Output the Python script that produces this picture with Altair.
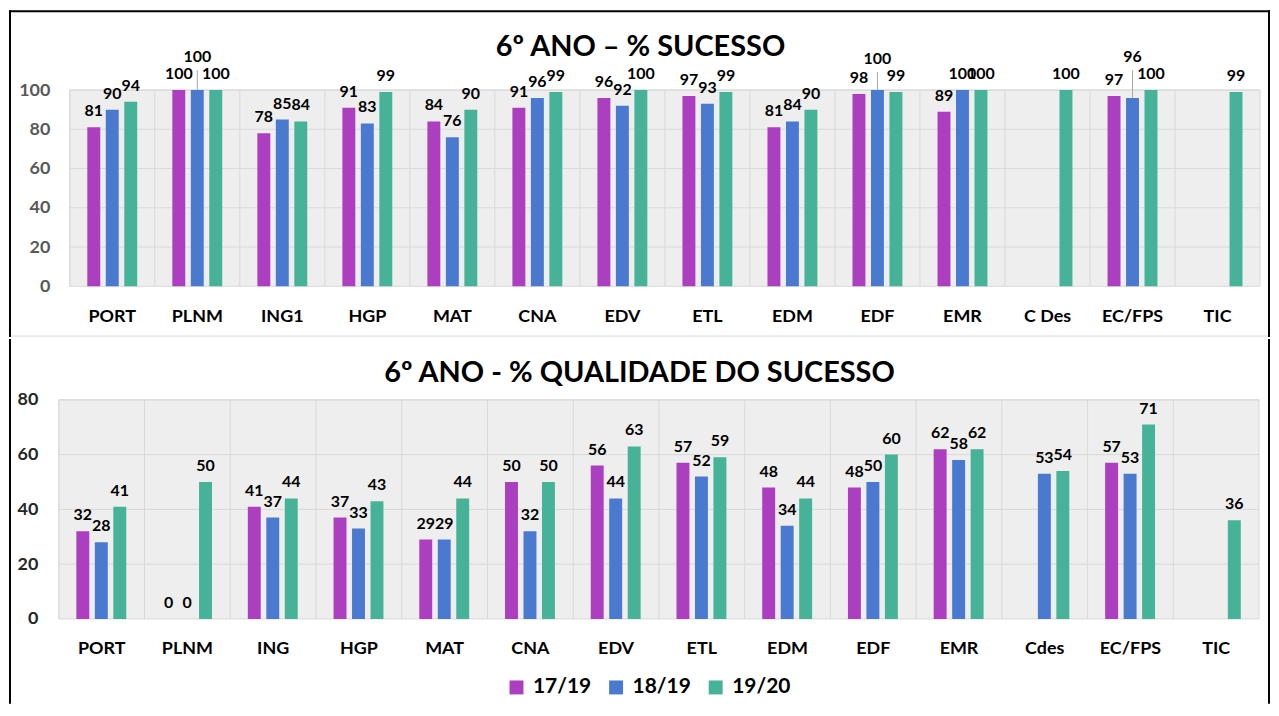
import altair as alt
import pandas as pd

series = ["17/19", "18/19", "19/20"]
colors = ["#AB3FC0", "#4A7AD0", "#46B298"]

top_title = "6º ANO – % SUCESSO"
top_cats = ["PORT", "PLNM", "ING1", "HGP", "MAT", "CNA", "EDV", "ETL", "EDM",
            "EDF", "EMR", "C Des", "EC/FPS", "TIC"]
top_1719 = [81, 100, 78, 91, 84, 91, 96, 97, 81, 98, 89, None, 97, None]
top_1819 = [90, 100, 85, 83, 76, 96, 92, 93, 84, 100, 100, None, 96, None]
top_1920 = [94, 100, 84, 99, 90, 99, 100, 99, 90, 99, 100, 100, 100, 99]
top_ticks = [0, 20, 40, 60, 80, 100]

bot_title = "6º ANO - % QUALIDADE DO SUCESSO"
bot_cats = ["PORT", "PLNM", "ING", "HGP", "MAT", "CNA", "EDV", "ETL", "EDM",
            "EDF", "EMR", "Cdes", "EC/FPS", "TIC"]
bot_1719 = [32, 0, 41, 37, 29, 50, 56, 57, 48, 48, 62, None, 57, None]
bot_1819 = [28, 0, 37, 33, 29, 32, 44, 52, 34, 50, 58, 53, 53, None]
bot_1920 = [41, 50, 44, 43, 44, 50, 63, 59, 44, 60, 62, 54, 71, 36]
bot_ticks = [0, 20, 40, 60, 80]

FONT = "Lato"
ONE = pd.DataFrame({"a": [1]})


def long_df(cats, cols, ppu):
    rows = []
    for i, c in enumerate(cats):
        vals = [col[i] for col in cols]
        raised = False
        anchor = None
        if all(v is not None for v in vals):
            if abs(vals[1] - vals[0]) * ppu < 9 and abs(vals[1] - vals[2]) * ppu < 9:
                raised = True
                anchor = max(vals[0], vals[2])
        for j, s in enumerate(series):
            v = vals[j]
            r = raised and j == 1
            rows.append(dict(cat=c, series=s, value=v,
                             label=None if v is None else str(v),
                             raised=r, anchor=anchor if r else None))
    return pd.DataFrame(rows)


def rule(x, x2, y, y2, color="black", sw=2, cap="square"):
    return alt.Chart(ONE).mark_rule(color=color, strokeWidth=sw, strokeCap=cap).encode(
        x=alt.value(x), x2=alt.value(x2), y=alt.value(y), y2=alt.value(y2))


def panel(cats, cols, W, H, lead, ymax, ticks, title, tpos, ycolor, xpad, ypad,
          frame, legend):
    df = long_df(cats, cols, H / ymax)
    n = len(cats)
    step = (W - lead) / n
    po = lead / step / 2.0
    xscale = alt.Scale(paddingInner=0, paddingOuter=po, align=1)
    yscale = alt.Scale(domain=[0, ymax], nice=False, zero=True)
    offs = alt.XOffset("series:N", sort=series,
                       scale=alt.Scale(paddingInner=0.3, paddingOuter=0.95))
    xaxis = alt.Axis(labelFont=FONT, labelFontSize=18, labelFontWeight="bold",
                     labelColor="black", labelAngle=0, labelPadding=xpad,
                     ticks=False, tickSize=0, domain=False, grid=False)
    yaxis = alt.Axis(values=ticks, labelFont=FONT, labelFontSize=18,
                     labelFontWeight="bold", labelColor=ycolor,
                     labelPadding=ypad, ticks=False, tickSize=0,
                     domain=False, grid=False)
    X = alt.X("cat:N", sort=cats, scale=xscale, title=None, axis=xaxis)
    Y = alt.Y("value:Q", scale=yscale, title=None, axis=yaxis)

    bg = alt.Chart(ONE).mark_rect(fill="#eeeeee", stroke="#d9d9d9", strokeWidth=1).encode(
        x=alt.value(lead), x2=alt.value(W), y=alt.value(0), y2=alt.value(H))
    gv = alt.Chart(pd.DataFrame({"cat": cats})).mark_rule(color="#d9d9d9", strokeWidth=1).encode(
        x=alt.X("cat:N", sort=cats, scale=xscale, title=None, axis=xaxis, bandPosition=0))
    gh = alt.Chart(pd.DataFrame({"value": ticks[1:]})).mark_rule(color="#d9d9d9", strokeWidth=1).encode(
        y=Y, x=alt.value(lead), x2=alt.value(W))

    base = alt.Chart(df)
    col = alt.Color("series:N", sort=series,
                    scale=alt.Scale(domain=series, range=colors),
                    legend=legend)
    bars = base.mark_bar().encode(x=X, xOffset=offs, y=Y, color=col)
    txt = dict(font=FONT, fontSize=16, fontWeight="bold", color="black",
               baseline="alphabetic", align="center")
    labels = base.transform_filter("!datum.raised && isValid(datum.value)").mark_text(
        dy=-11, **txt).encode(x=X, xOffset=offs, y=Y, text="label:N")
    leader = base.transform_filter("datum.raised").mark_rule(
        color="#a6a6a6", strokeWidth=1, y2Offset=-20).encode(
        x=X, xOffset=offs, y=Y, y2="anchor:Q")
    raised = base.transform_filter("datum.raised").mark_text(dy=-28, **txt).encode(
        x=X, xOffset=offs, y=alt.Y("anchor:Q", scale=yscale, title=None, axis=yaxis),
        text="label:N")
    ttl = alt.Chart(ONE).mark_text(text=title, font=FONT, fontSize=29, fontWeight="bold",
                                   color="black", align="center", baseline="middle").encode(
        x=alt.value(tpos[0]), y=alt.value(tpos[1]))
    return alt.layer(bg, gv, gh, bars, labels, leader, raised, *frame, ttl).properties(
        width=W, height=H)


W1, H1, LEAD1 = 1206, 197, 11
W2, H2 = 1205, 220

top_frame = [
    rule(-49, 1215, -79, -79),
    rule(-49, -49, -79, 247),
    rule(1215, 1215, -79, 247),
    rule(-48, 1214, 247, 247, color="#d9d9d9", sw=1, cap="butt"),
]
bot_frame = [
    rule(-49, -49, -60, 304),
    rule(1215, 1215, -60, 304),
]

top = panel(top_cats, [top_1719, top_1819, top_1920], W1, H1, LEAD1, 100, top_ticks,
            top_title, (584, -43), "#595959", 21, 9, top_frame, None)
bot_legend = alt.Legend(orient="none", legendX=449, legendY=278, direction="horizontal",
                        title=None, symbolType="square", symbolSize=196,
                        symbolStrokeWidth=0, labelFont=FONT, labelFontSize=21,
                        labelFontWeight="bold", labelColor="black",
                        columnPadding=14, labelOffset=6, padding=0)
bot = panel(bot_cats, [bot_1719, bot_1819, bot_1920], W2, H2, 0, 80, bot_ticks,
            bot_title, (583, -27), "#262626", 21, 21, bot_frame, bot_legend)

chart = alt.concat(top, bot, columns=1, spacing=0).resolve_scale(
    color="independent").properties(
    padding={"left": 0, "right": 0, "top": 0, "bottom": 0},
    background="white").configure(padding=0).configure_view(stroke=None)

chart.save("out.html", embed_options={"renderer": "svg", "actions": False})
